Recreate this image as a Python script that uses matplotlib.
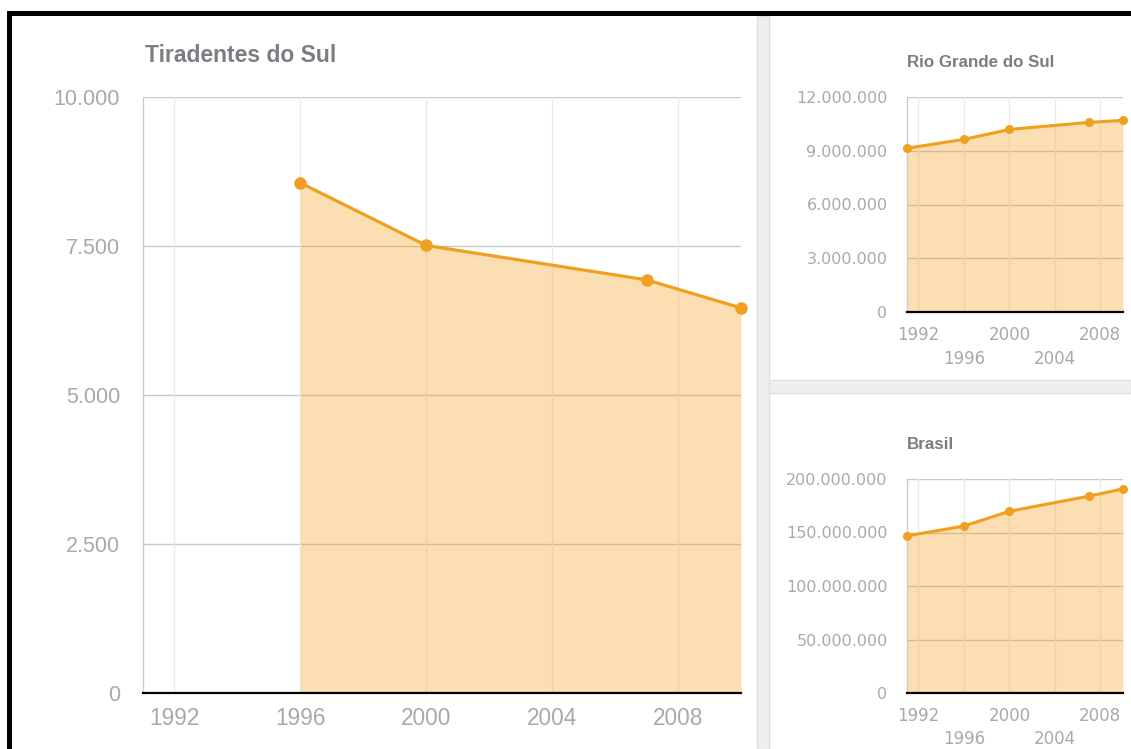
import matplotlib
matplotlib.use("Agg")
import matplotlib.pyplot as plt
from matplotlib.patches import Rectangle
from matplotlib.ticker import FuncFormatter

# ---- data ----
tir_years = [1996, 2000, 2007, 2010]
tir_pop = [8560, 7509, 6932, 6461]

rs_years = [1991, 1996, 2000, 2007, 2010]
rs_pop = [9138670, 9634688, 10187798, 10582840, 10693929]

br_years = [1991, 1996, 2000, 2007, 2010]
br_pop = [146825475, 156032944, 169799170, 183987291, 190755799]

x_ticks = [1992, 1996, 2000, 2004, 2008]
tir_yticks = [0, 2500, 5000, 7500, 10000]
rs_yticks = [0, 3000000, 6000000, 9000000, 12000000]
br_yticks = [0, 50000000, 100000000, 150000000, 200000000]

W, H = 1131, 749
fig = plt.figure(figsize=(W / 100, H / 100), dpi=100)
fig.patch.set_facecolor("white")

LINE = "#f0a020"
FILL = "#f5a01c"
LABEL = "#a9a9a9"
TITLE = "#7a7e82"


def px_axes(l, t, r, b):
    return fig.add_axes([l / W, 1 - b / H, (r - l) / W, (b - t) / H])


def fmt(v, _pos=None):
    return f"{int(round(v)):,}".replace(",", ".")


def style(ax, years, vals, yticks, lw, ms, ysize, xsize, ypad, xpad,
          stagger, family):
    ax.set_xlim(1991, 2010)
    ax.set_ylim(yticks[0], yticks[-1])
    ax.fill_between(years, vals, 0, color=FILL, alpha=0.34, lw=0, zorder=2)
    ax.plot(years, vals, color=LINE, lw=lw, marker="o", ms=ms,
            mec=LINE, mfc=LINE, zorder=4, clip_on=False)
    ax.set_xticks(x_ticks)
    ax.set_xticklabels([str(x) for x in x_ticks])
    ax.set_yticks(yticks)
    ax.yaxis.set_major_formatter(FuncFormatter(fmt))
    ax.tick_params(axis="both", length=0, colors=LABEL)
    ax.tick_params(axis="y", labelsize=ysize, pad=ypad)
    ax.tick_params(axis="x", labelsize=xsize, pad=xpad)
    for lab in ax.get_xticklabels() + ax.get_yticklabels():
        lab.set_family(family)
    for y in yticks[1:]:
        ax.axhline(y, color="#c9c9c9", lw=1, zorder=1)
    for x in x_ticks:
        ax.axvline(x, color="#ebebeb", lw=1, zorder=1)
    for s in ["top", "right"]:
        ax.spines[s].set_visible(False)
    ax.spines["left"].set_color("#cccccc")
    ax.spines["left"].set_linewidth(1)
    ax.spines["bottom"].set_color("black")
    ax.spines["bottom"].set_linewidth(1.6)
    ax.spines["bottom"].set_zorder(5)
    if stagger:
        ticks = ax.xaxis.get_major_ticks()
        for i, tk in enumerate(ticks):
            if i % 2 == 1:
                tk.set_pad(xpad + 17)


# main chart
ax1 = px_axes(143, 97, 741, 693)
style(ax1, tir_years, tir_pop, tir_yticks, 2.3, 8, 15.5, 16.3, 16.5, 10,
      False, "Liberation Sans")

# Rio Grande do Sul
ax2 = px_axes(907, 97, 1123, 312)
style(ax2, rs_years, rs_pop, rs_yticks, 2.2, 5.5, 11.5, 12.0, 14, 10,
      True, "DejaVu Sans")

# Brasil
ax3 = px_axes(907, 479, 1123, 693)
style(ax3, br_years, br_pop, br_yticks, 2.2, 5.5, 11.5, 12.0, 14, 10,
      True, "DejaVu Sans")

# titles
fig.text(145 / W, 1 - 62 / H, "Tiradentes do Sul", fontsize=16.5, fontweight="bold",
         color=TITLE, family="Liberation Sans", va="baseline", ha="left")
fig.text(907 / W, 1 - 67 / H, "Rio Grande do Sul", fontsize=12.2, fontweight="bold",
         color=TITLE, family="Liberation Sans", va="baseline", ha="left")
fig.text(907 / W, 1 - 449 / H, "Brasil", fontsize=12.2, fontweight="bold",
         color=TITLE, family="Liberation Sans", va="baseline", ha="left")


def rect_px(l, t, r, b, **kw):
    fig.patches.append(Rectangle((l / W, 1 - b / H), (r - l) / W, (b - t) / H,
                                 transform=fig.transFigure, **kw))


# panel separators
rect_px(757, 16, 769, 749, facecolor="#efefef", edgecolor="#e0e0e0", lw=1)
rect_px(769, 380, 1131, 393, facecolor="#efefef", edgecolor="#e0e0e0", lw=1)
# black frame
rect_px(7, 11, W, 16, facecolor="black", edgecolor="none")
rect_px(7, 11, 12, H, facecolor="black", edgecolor="none")

fig.savefig("out.png", dpi=100)
